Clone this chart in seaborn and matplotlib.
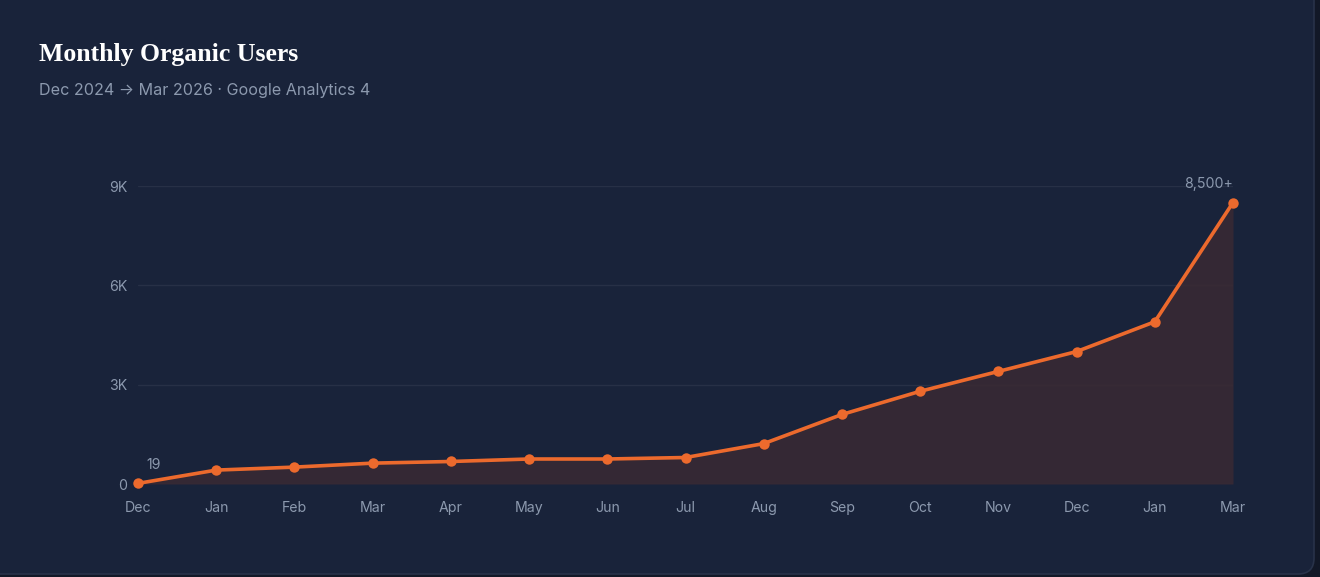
import numpy as np
import pandas as pd
import seaborn as sns
import matplotlib.pyplot as plt
from matplotlib.patches import FancyBboxPatch

# data
months = ['Dec', 'Jan', 'Feb', 'Mar', 'Apr', 'May', 'Jun', 'Jul',
          'Aug', 'Sep', 'Oct', 'Nov', 'Dec', 'Jan', 'Mar']
users = [19, 420, 510, 630, 680, 755, 755, 800,
         1220, 2100, 2800, 3400, 4000, 4900, 8500]
y_ticks = [0, 3000, 6000, 9000]
y_tick_labels = ['0', '3K', '6K', '9K']

df = pd.DataFrame({'pos': np.arange(len(months)), 'users': users})

outer_bg = '#121827'
card_bg = '#19233a'
card_edge = '#283249'
grid_col = '#273046'
text_col = '#8c99ae'
orange = '#ec6a2d'

sns.set_theme(style='dark')
plt.rcParams['font.family'] = ['Inter', 'DejaVu Sans']

fig = plt.figure(figsize=(13.2, 5.77), dpi=100, facecolor=outer_bg)

# card behind everything
bg = fig.add_axes([0, 0, 1, 1], zorder=-1)
bg.set_xlim(0, 1320)
bg.set_ylim(577, 0)
bg.axis('off')
bg.add_patch(FancyBboxPatch((-40, -40), 1354, 614,
                            boxstyle='round,pad=0,rounding_size=16',
                            facecolor=card_bg, edgecolor=card_edge, lw=1.2))

fig.text(39 / 1320, 1 - 61 / 577, 'Monthly Organic Users', color='white',
         fontsize=18.5, fontweight='bold', family=['Liberation Serif', 'DejaVu Serif'],
         va='baseline', ha='left')
fig.text(39 / 1320, 1 - 95 / 577, 'Dec 2024 \u2192 Mar 2026 \u00b7 Google Analytics 4',
         color=text_col, fontsize=11.6, va='baseline', ha='left')

ax = fig.add_axes([138 / 1320, 93 / 577, 1095 / 1320, 298 / 577])
ax.set_facecolor('none')
ax.patch.set_alpha(0)

ax.fill_between(df['pos'], 0, df['users'], color='#3a2a33', alpha=0.85, lw=0, zorder=1)
sns.lineplot(data=df, x='pos', y='users', ax=ax, color=orange, lw=2.6,
             marker='o', markersize=7.5, markeredgewidth=0, zorder=3, clip_on=False)

ax.set_xlim(0, len(months) - 1)
ax.set_ylim(0, 9000)
ax.set_xticks(df['pos'])
ax.set_xticklabels(months)
ax.set_yticks(y_ticks)
ax.set_yticklabels(y_tick_labels)
ax.set_xlabel('')
ax.set_ylabel('')
ax.tick_params(axis='both', colors=text_col, labelsize=10.2, length=0)
ax.tick_params(axis='y', pad=7.5)
ax.tick_params(axis='x', pad=12)
for s in ax.spines.values():
    s.set_visible(False)
for yv in y_ticks:
    ax.axhline(yv, color=grid_col, lw=1, zorder=0.5)
ax.grid(False)

ax.annotate('19', (0, users[0]), xytext=(6, 8), textcoords='offset points',
            color=text_col, fontsize=10.2, ha='left', va='bottom')
ax.annotate('8,500+', (len(months) - 1, users[-1]), xytext=(0, 8.5),
            textcoords='offset points', color=text_col, fontsize=10.2,
            ha='right', va='bottom', annotation_clip=False)

fig.savefig('out.png', dpi=100, facecolor=outer_bg)
